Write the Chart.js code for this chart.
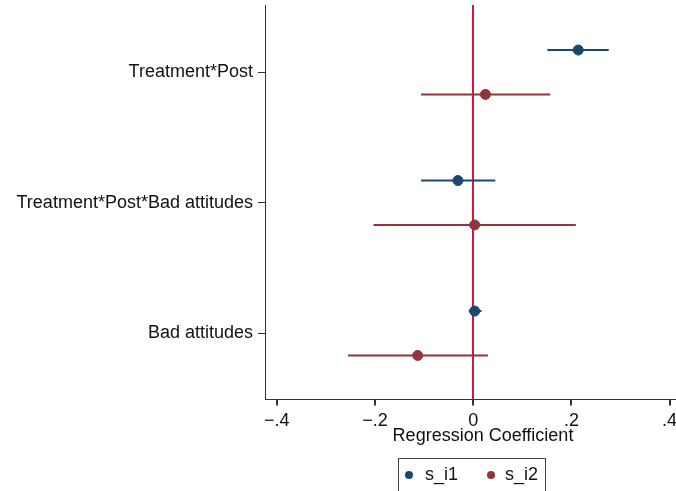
<!DOCTYPE html>
<html>
<head>
<meta charset="utf-8">
<script src="https://cdn.jsdelivr.net/npm/chart.js@4.4.1/dist/chart.umd.min.js"></script>
<style>
    html, body { margin: 0; padding: 0; background: #fff; overflow: hidden; }
    #wrap { position: relative; width: 676px; height: 491px; overflow: hidden; }
    #coefChart { position: absolute; left: 0; top: -20px; }
    #legend {
        position: absolute; left: 398px; top: 458px; width: 148px; height: 40px;
        border: 1px solid #444; box-sizing: border-box;
        font: 18px "Liberation Sans", Arial, sans-serif; color: #111;
    }
    #legend span { position: absolute; top: 5px; }
    #legend i { position: absolute; top: 12px; width: 8px; height: 8px; border-radius: 50%; }
</style>
</head>
<body>
<div id="wrap">
    <canvas id="coefChart" width="707" height="511"></canvas>
    <div id="legend">
        <i style="left:6px;background:#1a476f"></i><span style="left:26px">s_i1</span>
        <i style="left:88px;background:#90353b"></i><span style="left:106px">s_i2</span>
    </div>
</div>
<script>
/* ================= DATA ================= */
const terms = ["Treatment*Post", "Treatment*Post*Bad attitudes", "Bad attitudes"];
const xTicks = [-0.4, -0.2, 0, 0.2, 0.4];

const s1Coef = [0.214, -0.031, 0.003];
const s1Low = [0.151, -0.106, -0.009];
const s1High = [0.276, 0.045, 0.017];

const s2Coef = [0.025, 0.003, -0.113];
const s2Low = [-0.106, -0.203, -0.255];
const s2High = [0.157, 0.209, 0.030];

const blue = "#1a476f";
const red = "#90353b";
const zeroColor = "#dc143c";
const offset = 0.17;

/* ================= DATASETS ================= */
function pointSet(coefs, shift, color) {
    return {
        type: "scatter",
        data: coefs.map((c, i) => ({ x: c, y: i + 1 + shift })),
        backgroundColor: color,
        borderColor: color,
        pointRadius: 5,
        pointHoverRadius: 5
    };
}

function barSets(lows, highs, shift, color) {
    return lows.map((lo, i) => ({
        type: "line",
        data: [{ x: lo, y: i + 1 + shift }, { x: highs[i], y: i + 1 + shift }],
        borderColor: color,
        borderWidth: 2,
        pointRadius: 0,
        fill: false
    }));
}

const datasets = [
    pointSet(s1Coef, -offset, blue),
    pointSet(s2Coef, offset, red),
    ...barSets(s1Low, s1High, -offset, blue),
    ...barSets(s2Low, s2High, offset, red)
];

const font = { family: "'Liberation Sans', Arial, sans-serif", size: 18 };

/* ================= CHART ================= */
// canvas is a bit bigger than the page and shifted up, so the plot runs to the edges
new Chart(document.getElementById("coefChart").getContext("2d"), {
    type: "scatter",
    data: { datasets: datasets },
    options: {
        responsive: false,
        animation: false,
        layout: { padding: { top: 25, right: 0, bottom: 49.5, left: 0 } },
        plugins: { legend: { display: false }, tooltip: { enabled: false } },
        scales: {
            x: {
                type: "linear",
                min: -0.4239,
                max: 0.4639,
                afterBuildTicks: s => { s.ticks = xTicks.map(v => ({ value: v })); },
                ticks: {
                    color: "#111",
                    font: font,
                    padding: 4.5,
                    maxRotation: 0,
                    callback: v => v === 0 ? "0" : (v < 0 ? "\u2212" : "") + String(Math.abs(v)).replace("0.", ".")
                },
                grid: {
                    color: c => c.tick && c.tick.value === 0 ? zeroColor : "rgba(0,0,0,0)",
                    lineWidth: 2,
                    tickColor: "#333",
                    tickLength: 6
                },
                border: { color: "#333", width: 1 },
                title: {
                    display: true, text: "Regression Coefficient", color: "#111",
                    font: { family: font.family, size: 18, lineHeight: 0.6 },
                    padding: { top: -5.5, bottom: 0 }
                }
            },
            y: {
                type: "linear",
                reverse: true,
                min: 0.485,
                max: 3.508,
                afterBuildTicks: s => { s.ticks = terms.map((t, i) => ({ value: i + 1 })); },
                afterFit: s => { s.width = 265; },
                ticks: {
                    color: "#111",
                    font: font,
                    padding: 5,
                    callback: v => terms[v - 1]
                },
                grid: { drawOnChartArea: false, tickColor: "#333", tickLength: 7 },
                border: { color: "#333", width: 1 }
            }
        }
    }
});
</script>
</body>
</html>
